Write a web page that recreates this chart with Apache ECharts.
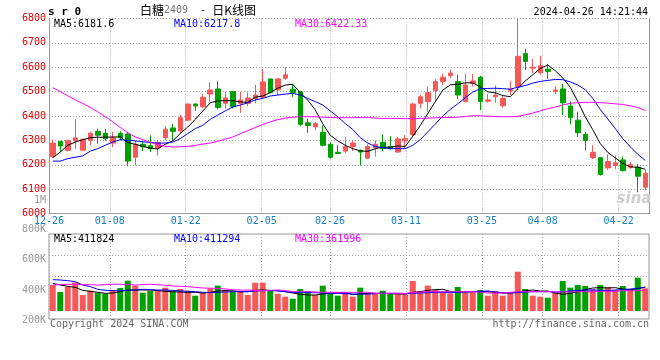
<!DOCTYPE html>
<html><head><meta charset="utf-8">
<script src="https://cdn.jsdelivr.net/npm/echarts/dist/echarts.min.js"></script>
<style>html,body{margin:0;padding:0;background:#fff}#c{width:660px;height:360px}</style>
</head><body><div id="c"></div>
<script>
const categories = ['12-26','12-27','12-28','12-29','01-02','01-03','01-04','01-05','01-08','01-09','01-10','01-11','01-12','01-15','01-16','01-17','01-18','01-19','01-22','01-23','01-24','01-25','01-26','01-29','01-30','01-31','02-01','02-02','02-05','02-06','02-07','02-08','02-19','02-20','02-21','02-22','02-23','02-26','02-27','02-28','02-29','03-01','03-04','03-05','03-06','03-07','03-08','03-11','03-12','03-13','03-14','03-15','03-18','03-19','03-20','03-21','03-22','03-25','03-26','03-27','03-28','03-29','04-01','04-02','04-03','04-08','04-09','04-10','04-11','04-12','04-15','04-16','04-17','04-18','04-19','04-22','04-23','04-24','04-25','04-26'];
const tickLabels = ['12-26','01-08','01-22','02-05','02-26','03-11','03-25','04-08','04-22'];

const opens = [6234,6296,6259,6298,6260,6300,6337,6329,6289,6329,
 6326,6231,6284,6278,6269,6311,6351,6339,6383,6449,
 6438,6490,6511,6452,6500,6452,6452,6472,6477,6552,
 6507,6555,6510,6500,6372,6355,6333,6284,6251,6256,
 6275,6259,6227,6270,6292,6275,6252,6298,6324,6452,
 6459,6504,6541,6566,6541,6459,6534,6559,6461,6479,
 6442,6503,6521,6656,6596,6578,6592,6500,6511,6441,
 6383,6325,6229,6229,6187,6197,6220,6190,6190,6108];
const closes = [6289,6277,6300,6310,6304,6329,6321,6307,6311,6311,
 6215,6284,6273,6266,6291,6346,6337,6393,6449,6441,
 6477,6507,6435,6474,6438,6466,6474,6486,6540,6496,
 6552,6569,6496,6366,6361,6369,6280,6231,6246,6275,
 6289,6252,6275,6284,6266,6266,6306,6307,6449,6479,
 6496,6541,6559,6576,6486,6527,6544,6460,6466,6486,
 6472,6510,6645,6624,6600,6606,6583,6507,6454,6393,
 6331,6300,6251,6160,6213,6208,6176,6200,6153,6165];
const highs = [6304,6298,6302,6387,6308,6335,6348,6346,6335,6337,
 6335,6298,6298,6321,6303,6358,6368,6404,6452,6452,
 6490,6539,6544,6500,6503,6500,6496,6527,6592,6553,
 6555,6601,6532,6503,6388,6376,6361,6292,6280,6314,
 6298,6262,6284,6300,6325,6317,6314,6321,6455,6486,
 6521,6551,6573,6590,6569,6573,6572,6565,6490,6525,
 6486,6544,6800,6676,6634,6647,6614,6521,6532,6459,
 6417,6335,6280,6232,6242,6238,6234,6211,6204,6179];
const lows = [6228,6252,6255,6266,6258,6280,6286,6298,6273,6300,
 6194,6197,6256,6252,6238,6303,6300,6328,6380,6421,
 6431,6459,6427,6431,6431,6413,6440,6452,6472,6493,
 6486,6548,6479,6358,6331,6342,6275,6225,6244,6248,
 6256,6197,6225,6234,6256,6262,6250,6266,6314,6431,
 6417,6459,6527,6555,6470,6457,6521,6424,6455,6455,
 6434,6486,6507,6589,6576,6569,6551,6490,6404,6366,
 6314,6259,6223,6156,6179,6182,6172,6183,6087,6096];

const ma5 = [6229,6252,6280,6293,6303,6311,6313,6313,6314,6314,6291,6284,6276,6268,6265,6284,6298,6328,6355,6386,6420,6454,6462,6463,6463,6458,6456,
 6477,6482,6496,6514,6527,6530,6496,6465,6425,6368,6321,6298,6280,6266,6257,6255,6266,6272,6272,6277,6275,6317,6361,6410,6458,6506,
 6528,6530,6536,6536,6520,6499,6495,6484,6479,6512,6544,6569,6595,6609,6586,6556,6518,6460,6397,6344,6287,6251,6228,6206,6191,6190,6181.6];
const ma10 = [6215,6215,6225,6231,6236,6256,6266,6280,6293,6303,6300,6298,6294,6291,6289,6289,6293,6307,6328,6348,6362,6386,6404,6421,6437,6445,6454,
 6466,6472,6482,6486,6490,6493,6486,6472,6459,6445,6421,6397,6369,6345,6311,6289,6275,6270,6266,6266,6266,6280,6303,6335,6367,6400,
 6427,6450,6475,6498,6512,6513,6514,6512,6510,6518,6525,6535,6542,6546,6550,6549,6540,6527,6508,6472,6427,6388,6348,6307,6274,6243,6217.8];
const ma30 = [6516,6500,6483,6466,6452,6435,6417,6397,6376,6353,6331,6314,6303,6292,6282,6276,6273,6274,6275,6279,6285,6289,6296,6305,6314,6327,6340,
 6353,6365,6376,6385,6391,6395,6397,6397,6397,6395,6394,6393,6393,6393,6394,6394,6391,6390,6390,6390,6389,6389,6390,6391,6393,6394,
 6394,6395,6398,6401,6401,6399,6398,6397,6397,6398,6405,6412,6421,6430,6437,6445,6452,6455,6456,6456,6455,6453,6450,6447,6442,6435,6422.33];

// volume in thousands (K)
const volumes = [448,328,419,494,276,351,316,299,362,397,523,437,316,345,345,402,333,379,350,264,
 316,385,437,362,350,333,276,488,488,350,299,247,212,379,345,276,437,316,264,328,
 247,402,316,305,350,305,288,288,517,345,437,362,322,305,414,322,322,362,264,345,
 264,316,678,379,264,247,229,322,517,402,448,431,374,448,414,362,431,362,574,391];
const volMa5 = [477,448,425,408,356,339,322,305,310,333,362,362,362,362,351,339,333,328,322,322,
 310,322,345,351,345,333,333,356,362,356,351,333,310,287,276,276,293,305,316,316,
 282,293,299,305,305,299,293,293,322,333,356,368,374,339,322,328,333,333,333,322,
 310,310,328,351,362,345,345,310,287,305,333,368,397,402,397,402,379,368,385,411.8];
const volMa10 = [540,534,523,506,448,420,374,356,351,351,356,362,374,368,362,362,356,345,339,333,
 322,316,322,328,333,333,333,345,351,351,345,333,322,316,316,316,310,305,305,299,
 293,293,293,299,305,305,305,299,305,310,316,322,322,316,322,328,333,339,345,328,
 316,310,316,328,333,333,333,328,328,345,356,362,362,356,356,362,368,379,391,411.3];
const volMa30 = [448,454,460,460,454,454,448,454,460,460,454,448,454,460,454,443,431,425,420,408,
 397,391,391,379,368,362,362,356,351,356,362,351,333,333,333,328,322,322,322,322,
 322,322,322,305,305,305,305,305,316,328,333,333,333,333,333,333,333,322,310,310,
 310,322,333,333,333,333,333,328,328,328,333,333,333,339,339,339,351,351,351,362];

const priceMin = 6000, priceMax = 6800, priceStep = 100;
const volTickValues = [200, 400, 600, 800];
const maNames = ['MA5', 'MA10', 'MA30'];
const mainLegendValues = [6181.6, 6217.8, 6422.33];
const volLegendValues = [411824, 411294, 361996];
const titleCode = 's r 0';
const titleName = ['白糖', '2409', '  - ', '日K线图'];
const timeStamp = '2024-04-26 14:21:44';
const footerLeft = 'Copyright 2024 SINA.COM';
const footerRight = 'http://finance.sina.com.cn';
const mainExtraLabel = '1M';

const RED = '#f65858', GREEN = '#00a000';
const MA_COLORS = ['#000000', '#0000ff', '#ff00ff'];
const MONO = '"DejaVu Sans Mono", monospace';
const GRIDLINE = {color: '#aaaaaa', type: [1, 2], width: 1};

const candleData = categories.map((_, i) => [opens[i], closes[i], lows[i], highs[i]]);
const volData = volumes.map((v, i) => ({value: v, itemStyle: {color: closes[i] >= opens[i] ? RED : GREEN}}));
const tickFn = (idx) => tickLabels.indexOf(categories[idx]) >= 0;

const chart = echarts.init(document.getElementById('c'), null, {renderer: 'canvas'});

function txt(x, y, text, fill, font, align) {
  return {type: 'text', x: x, y: y, z: 100, silent: true,
    style: {text: text, fill: fill, font: font, align: align || 'left', verticalAlign: 'middle'}};
}

const graphics = [
  txt(48, 12, titleCode, '#000', 'bold 11px ' + MONO),
  {type: 'text', x: 140, y: 10, z: 100, silent: true, style: {
    text: '{a|' + titleName[0] + '}{b|' + titleName[1] + '}{c|' + titleName[2] + '}{a|' + titleName[3] + '}',
    verticalAlign: 'middle', align: 'left',
    rich: {a: {fontFamily: '"Noto Sans CJK SC"', fontSize: 12, fill: '#000', color: '#000'},
           b: {fontFamily: MONO, fontSize: 10, fill: '#777', color: '#777'},
           c: {fontFamily: MONO, fontSize: 10, fill: '#000', color: '#000'}}}},
  txt(648, 12, timeStamp, '#000', '10px ' + MONO, 'right'),
  txt(54, 24, maNames[0] + ':' + mainLegendValues[0], MA_COLORS[0], '10px ' + MONO),
  txt(174, 24, maNames[1] + ':' + mainLegendValues[1], MA_COLORS[1], '10px ' + MONO),
  txt(295, 24, maNames[2] + ':' + mainLegendValues[2], MA_COLORS[2], '10px ' + MONO),
  txt(54, 239, maNames[0] + ':' + volLegendValues[0], MA_COLORS[0], '10px ' + MONO),
  txt(174, 239, maNames[1] + ':' + volLegendValues[1], MA_COLORS[1], '10px ' + MONO),
  txt(295, 239, maNames[2] + ':' + volLegendValues[2], MA_COLORS[2], '10px ' + MONO),
  txt(46, 200, mainExtraLabel, '#999', '10px ' + MONO, 'right'),
  txt(50, 324, footerLeft, '#666', '10px ' + MONO),
  txt(649, 324, footerRight, '#666', '10px ' + MONO, 'right'),
  txt(634, 199, 'sina', '#cfcfcf', 'italic bold 15px "DejaVu Sans", sans-serif', 'center')
];

const option = {
  animation: false,
  backgroundColor: '#ffffff',
  grid: [
    {left: 49, top: 18.5, width: 600, height: 195, show: false, outerBoundsMode: 'none'},
    {left: 49, top: 234, width: 600, height: 85, show: true, borderColor: '#999', borderWidth: 1, backgroundColor: 'rgba(0,0,0,0)', outerBoundsMode: 'none'},
    {left: 49, top: 229.5, width: 600, height: 91, show: false, outerBoundsMode: 'none'}
  ],
  xAxis: [
    {type: 'category', gridIndex: 0, data: categories, boundaryGap: true,
     axisLine: {show: true, onZero: false, lineStyle: {color: '#999'}}, axisTick: {show: false},
     axisLabel: {show: false}, splitLine: {show: false}},
    {type: 'category', gridIndex: 0, data: categories, boundaryGap: false, position: 'bottom',
     axisLine: {show: false, onZero: false}, axisTick: {show: false},
     axisLabel: {show: true, interval: tickFn, color: '#1480c8', fontFamily: MONO, fontSize: 10, margin: 3},
     splitLine: {show: true, interval: tickFn, lineStyle: GRIDLINE}},
    {type: 'category', gridIndex: 1, data: categories, boundaryGap: true, show: false,
     axisLine: {onZero: false}},
    {type: 'category', gridIndex: 1, data: categories, boundaryGap: false, position: 'bottom',
     axisLine: {show: false, onZero: false}, axisTick: {show: false}, axisLabel: {show: false},
     splitLine: {show: true, interval: tickFn, lineStyle: GRIDLINE}},
    {type: 'category', gridIndex: 2, data: [], show: false}
  ],
  yAxis: [
    {type: 'value', gridIndex: 0, min: priceMin, max: priceMax, interval: priceStep, position: 'left',
     axisLine: {show: true, lineStyle: {color: '#999'}}, axisTick: {show: false},
     axisLabel: {color: '#e00000', fontFamily: MONO, fontSize: 10, margin: 3, padding: [0, 0, 2, 0],
                 formatter: v => String(v)},
     splitLine: {show: true, lineStyle: GRIDLINE}},
    {type: 'value', gridIndex: 0, min: priceMin, max: priceMax, position: 'right',
     axisLine: {show: true, lineStyle: {color: '#999'}}, axisTick: {show: false},
     axisLabel: {show: false}, splitLine: {show: false}},
    {type: 'value', gridIndex: 1, min: -138, max: 1327.6, show: false, splitLine: {show: false}},
    {type: 'value', gridIndex: 1, min: 0, max: 4, interval: 1, position: 'right',
     axisLine: {show: false}, axisTick: {show: false}, axisLabel: {show: false},
     splitLine: {show: true, lineStyle: {color: ['rgba(0,0,0,0)', 'rgba(0,0,0,0)', '#aaaaaa', '#aaaaaa', 'rgba(0,0,0,0)'], type: [1, 2], width: 1}}},
    {type: 'value', gridIndex: 2, min: volTickValues[0], max: volTickValues[volTickValues.length - 1],
     interval: volTickValues[1] - volTickValues[0], position: 'left',
     axisLine: {show: false}, axisTick: {show: false}, splitLine: {show: false},
     axisLabel: {color: '#999', fontFamily: MONO, fontSize: 10, margin: 3, formatter: v => v + 'K'}}
  ],
  series: [
    {type: 'candlestick', xAxisIndex: 0, yAxisIndex: 0, data: candleData, barWidth: 5,
     itemStyle: {color: RED, color0: GREEN, borderColor: RED, borderColor0: GREEN, borderWidth: 1}},
    {type: 'line', xAxisIndex: 0, yAxisIndex: 0, data: ma5, symbol: 'none', lineStyle: {color: MA_COLORS[0], width: 1}, z: 5},
    {type: 'line', xAxisIndex: 0, yAxisIndex: 0, data: ma10, symbol: 'none', lineStyle: {color: MA_COLORS[1], width: 1}, z: 5},
    {type: 'line', xAxisIndex: 0, yAxisIndex: 0, data: ma30, symbol: 'none', lineStyle: {color: MA_COLORS[2], width: 1}, z: 5},
    {type: 'bar', xAxisIndex: 2, yAxisIndex: 2, data: volData, barWidth: 6},
    {type: 'line', xAxisIndex: 2, yAxisIndex: 2, data: volMa5, symbol: 'none', lineStyle: {color: MA_COLORS[0], width: 1}, z: 5},
    {type: 'line', xAxisIndex: 2, yAxisIndex: 2, data: volMa10, symbol: 'none', lineStyle: {color: MA_COLORS[1], width: 1}, z: 5},
    {type: 'line', xAxisIndex: 2, yAxisIndex: 2, data: volMa30, symbol: 'none', lineStyle: {color: MA_COLORS[2], width: 1}, z: 5}
  ],
  graphic: graphics
};
chart.setOption(option);
</script></body></html>
